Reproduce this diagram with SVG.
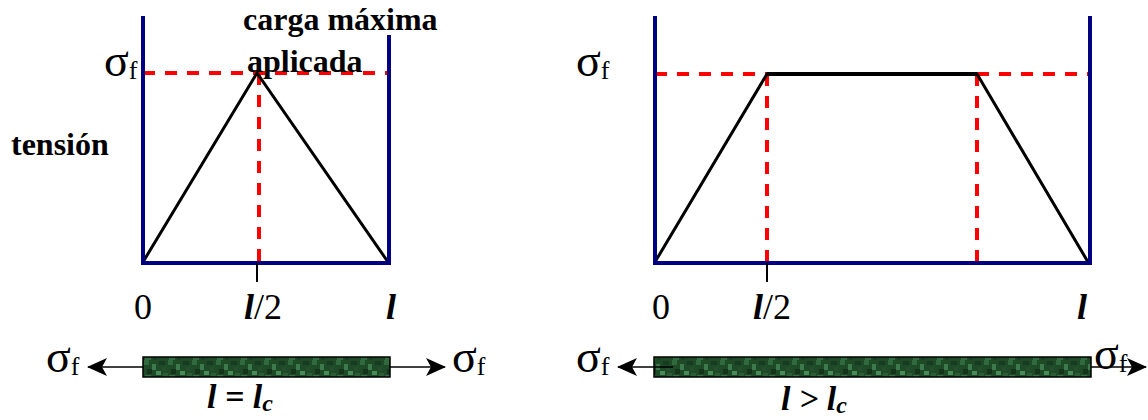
<svg xmlns="http://www.w3.org/2000/svg" width="1148" height="420" viewBox="0 0 1148 420">
<style>
.axis{stroke:#000080;stroke-width:4;fill:none}
.curve{stroke:#000;stroke-width:3;fill:none;stroke-linejoin:miter}
.dash{stroke:#ff0000;stroke-width:4;stroke-dasharray:12 10;fill:none}
.tick{stroke:#000;stroke-width:2}
.arr{stroke:#000;stroke-width:1.5;fill:none}
.bar{fill:url(#tex);stroke:#000;stroke-width:1.5}
.serif{font-family:"Liberation Serif","Times New Roman",serif;fill:#000}
.sig{font-size:46px}
.sub{font-size:26px}
.bold{font-weight:bold}
.it{font-style:italic}
</style>
<defs>
<pattern id="tex" width="24" height="20" patternUnits="userSpaceOnUse">
<rect width="24" height="20" fill="#1e4a28"/>
<rect x="0" y="0" width="5" height="5" fill="#2f6a3c"/>
<rect x="8" y="4" width="4" height="6" fill="#3d7a4a"/>
<rect x="15" y="1" width="6" height="4" fill="#173b20"/>
<rect x="3" y="9" width="5" height="5" fill="#14331b"/>
<rect x="12" y="11" width="5" height="4" fill="#4a8a58"/>
<rect x="19" y="13" width="5" height="5" fill="#2a5e36"/>
<rect x="1" y="15" width="6" height="5" fill="#356d42"/>
<rect x="18" y="7" width="4" height="4" fill="#244f2e"/>
<rect x="9" y="16" width="4" height="4" fill="#1a4222"/>
</pattern>
<marker id="ah" viewBox="0 0 20 18" refX="19" refY="9" markerWidth="20" markerHeight="18" markerUnits="userSpaceOnUse" orient="auto">
<path d="M0,0 L20,9 L0,18 L5,9 Z" fill="#000"/>
</marker>
</defs>

<g id="left-chart">
<line class="dash" x1="143" y1="73" x2="389" y2="73"/>
<line class="dash" x1="259" y1="73" x2="259" y2="262"/>
<polyline class="curve" points="143,262 257,73 388,262"/>
<polyline class="axis" points="143,16 143,263 389,263 389,35"/>
<line class="tick" x1="257" y1="263" x2="257" y2="282"/>
</g>

<g id="right-chart">
<line class="dash" x1="655" y1="74" x2="767" y2="74"/>
<line class="dash" x1="977" y1="74" x2="1090" y2="74"/>
<line class="dash" x1="767" y1="74" x2="767" y2="262"/>
<line class="dash" x1="977" y1="74" x2="977" y2="262"/>
<polyline class="curve" points="655,262 767,74 977,74 1088,262"/>
<line x1="767" y1="74" x2="977" y2="74" stroke="#000" stroke-width="4"/>
<polyline class="axis" points="655,16 655,263 1090,263 1090,16"/>
<line class="tick" x1="767" y1="263" x2="767" y2="282"/>
</g>

<g id="labels-left" class="serif">
<text x="243" y="30" font-size="32" class="bold">carga máxima</text>
<text x="247" y="72" font-size="32" class="bold">aplicada</text>
<text x="11" y="155" font-size="32" class="bold">tensión</text>
<text x="104" y="76" class="sig">σ<tspan class="sub" dy="3">f</tspan></text>
<text x="143" y="319" font-size="36" text-anchor="middle">0</text>
<text x="244" y="319" font-size="36"><tspan class="bold it">l</tspan>/2</text>
<text x="391" y="319" font-size="36" text-anchor="middle" class="bold it">l</text>
</g>

<g id="labels-right" class="serif">
<text x="576" y="76" class="sig">σ<tspan class="sub" dy="3">f</tspan></text>
<text x="661" y="319" font-size="36" text-anchor="middle">0</text>
<text x="753" y="319" font-size="36"><tspan class="bold it">l</tspan>/2</text>
<text x="1082" y="319" font-size="36" text-anchor="middle" class="bold it">l</text>
</g>

<g id="bar-left">
<rect class="bar" x="143" y="357" width="247" height="20"/>
<text class="serif sig" x="46" y="372">σ<tspan class="sub" dy="3">f</tspan></text>
<text class="serif sig" x="452" y="372">σ<tspan class="sub" dy="3">f</tspan></text>
<text class="serif bold it" x="207" y="408" font-size="34">l = l<tspan font-size="24" dy="3">c</tspan></text>
</g>

<g id="bar-right">
<rect class="bar" x="654" y="357" width="437" height="20"/>
<text class="serif sig" x="576" y="372">σ<tspan class="sub" dy="3">f</tspan></text>
<text class="serif sig" x="1094" y="369">σ<tspan class="sub" dy="3">f</tspan></text>
<text class="serif bold it" x="781" y="410" font-size="34">l &gt; l<tspan font-size="24" dy="3">c</tspan></text>
</g>

<g id="connectors">
<line class="arr" x1="143" y1="367" x2="88" y2="367" marker-end="url(#ah)"/>
<line class="arr" x1="390" y1="367" x2="445" y2="367" marker-end="url(#ah)"/>
<line class="arr" x1="673" y1="367" x2="618" y2="367" marker-end="url(#ah)"/>
<line class="arr" x1="1091" y1="367" x2="1146" y2="367" marker-end="url(#ah)"/>
</g>
</svg>
